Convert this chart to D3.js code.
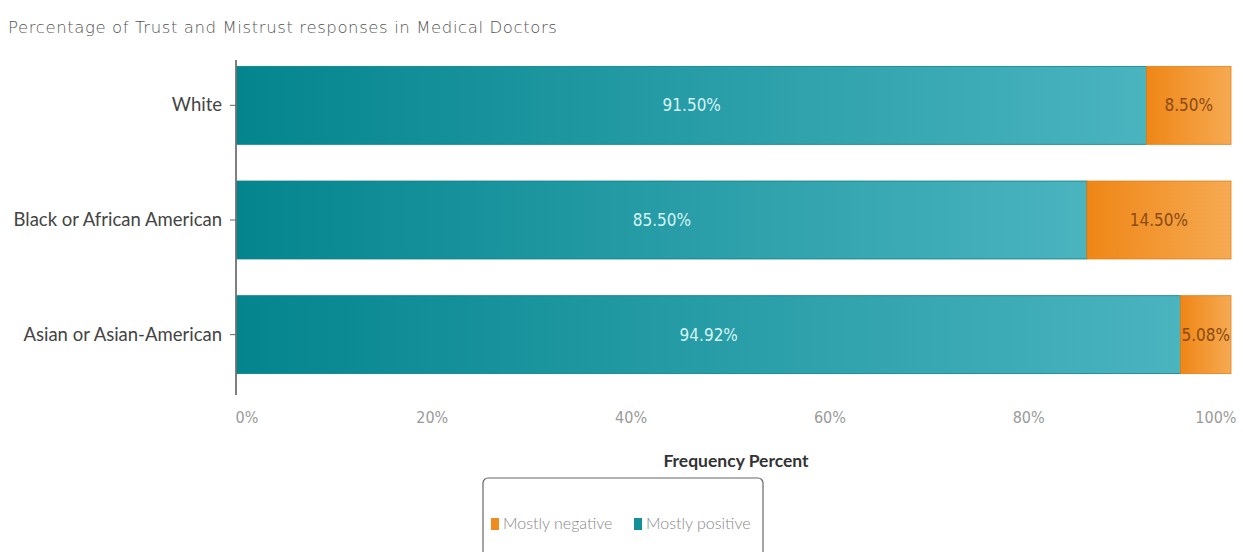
<!DOCTYPE html>
<html><head><meta charset="utf-8">
<script src="https://cdn.jsdelivr.net/npm/d3@7"></script>
<style>body{margin:0;background:#fff;}svg{display:block;}</style>
</head><body>
<svg id="c" width="1243" height="552"></svg>
<script>
const categories = ["White", "Black or African American", "Asian or Asian-American"];
const seriesNames = ["Mostly positive", "Mostly negative"];
const positive = [91.50, 85.50, 94.92];
const negative = [8.50, 14.50, 5.08];
const xTicks = [0, 20, 40, 60, 80, 100];
const title = "Percentage of Trust and Mistrust responses in Medical Doctors";
const xTitle = "Frequency Percent";
const legendOrder = ["Mostly negative", "Mostly positive"];

const svg = d3.select("#c");
const defs = svg.append("defs");
function grad(id, c0, c1){
  const g = defs.append("linearGradient").attr("id", id).attr("x1","0%").attr("x2","100%").attr("y1","0%").attr("y2","0%");
  g.append("stop").attr("offset","0%").attr("stop-color",c0);
  g.append("stop").attr("offset","100%").attr("stop-color",c1);
}
grad("gPos", "#04858e", "#4ab4bf");
grad("gNeg", "#ef8616", "#f6aa52");

const x = d3.scaleLinear().domain([0,100]).range([237,1231]);
const y = d3.scaleBand().domain(categories).range([48,392]).paddingInner(0.32).paddingOuter(0.16);

svg.append("text").attr("x",8).attr("y",33).attr("font-family","'DejaVu Sans', sans-serif")
  .attr("font-size",16.5).attr("fill","#555").attr("font-weight",200).attr("letter-spacing",0.6).text(title);

const rows = categories.map((c,i)=>({c, pos:positive[i], neg:negative[i]}));

svg.selectAll(".pos").data(rows).enter().append("rect")
  .attr("x", x(0)).attr("y", d=>y(d.c)).attr("width", d=>x(d.pos)-x(0)).attr("height", y.bandwidth())
  .attr("fill","url(#gPos)").attr("stroke","#0a7f88").attr("stroke-width",0.8);
svg.selectAll(".neg").data(rows).enter().append("rect")
  .attr("x", d=>x(d.pos)).attr("y", d=>y(d.c)).attr("width", d=>x(d.pos+d.neg)-x(d.pos)).attr("height", y.bandwidth())
  .attr("fill","url(#gNeg)").attr("stroke","#e07f1a").attr("stroke-width",0.8);

const condensed = "'DejaVu Sans Condensed', 'DejaVu Sans', sans-serif";
svg.selectAll(".posl").data(rows).enter().append("text")
  .attr("x", d=>(x(0)+x(d.pos))/2).attr("y", d=>y(d.c)+y.bandwidth()/2+6)
  .attr("text-anchor","middle").attr("font-family",condensed)
  .attr("font-size",17).attr("fill","#d6f3f3").text(d=>d.pos.toFixed(2)+"%");
svg.selectAll(".negl").data(rows).enter().append("text")
  .attr("x", d=>(x(d.pos)+x(d.pos+d.neg))/2).attr("y", d=>y(d.c)+y.bandwidth()/2+6)
  .attr("text-anchor","middle").attr("font-family",condensed)
  .attr("font-size",17).attr("fill","#8a4a12").text(d=>d.neg.toFixed(2)+"%");

// y axis
const ya = svg.append("g").attr("transform","translate(236,0)")
  .call(d3.axisLeft(y).tickSize(6).tickPadding(8));
ya.select(".domain").attr("d","M0,60V395").attr("stroke","#555").attr("stroke-width",1.5);
ya.selectAll(".tick line").attr("stroke","#666");
ya.selectAll(".tick text").attr("font-family","Lato, sans-serif").attr("font-size",18.5).attr("fill","#444");

// x axis
const xa = svg.append("g").attr("transform","translate(0,395)")
  .call(d3.axisBottom(x).tickValues(xTicks).tickFormat(d=>d+"%").tickSize(0).tickPadding(17));
xa.select(".domain").remove();
xa.selectAll(".tick text").attr("font-family",condensed)
  .attr("font-size",16).attr("fill","#9a9a9a")
  .attr("text-anchor",(d,i)=> i===0?"start": (i===xTicks.length-1?"end":"middle"))
  .attr("dx",(d,i)=> i===0?-2:(i===xTicks.length-1?5:-4));

svg.append("text").attr("x",(x(0)+x(100))/2+2).attr("y",467).attr("text-anchor","middle")
  .attr("font-family","Lato, sans-serif").attr("font-weight",700).attr("font-size",17.5).attr("fill","#333").text(xTitle);

// legend
svg.append("rect").attr("x",483).attr("y",478).attr("width",280).attr("height",90).attr("rx",5)
  .attr("fill","#fff").attr("stroke","#666").attr("stroke-width",1.2);
const lx = [491, 634];
legendOrder.forEach((n,i)=>{
  svg.append("rect").attr("x",lx[i]).attr("y",518).attr("width",8).attr("height",12).attr("fill", i===0?"#f08c1e":"#138f98");
  svg.append("text").attr("x",lx[i]+12).attr("y",529).attr("font-family","Lato, sans-serif").attr("font-weight",300)
    .attr("font-size",16).attr("fill","#888").text(n);
});
</script>
</body></html>
